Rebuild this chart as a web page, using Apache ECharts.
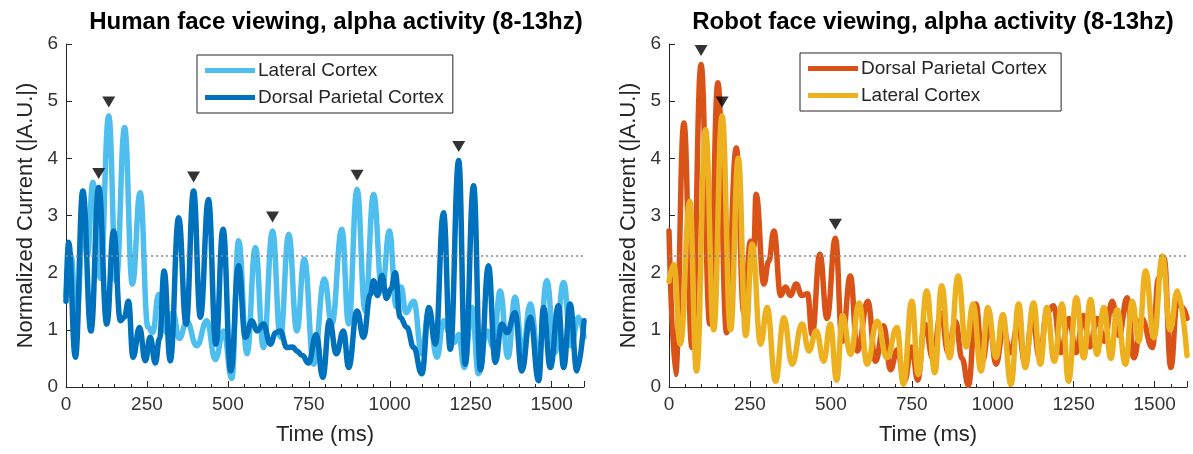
<!DOCTYPE html>
<html>
<head>
<meta charset="utf-8">
<script src="https://cdn.jsdelivr.net/npm/echarts@6/dist/echarts.min.js"></script>
<style>
  html, body { margin: 0; padding: 0; background: #ffffff; }
  #chart { width: 1193px; height: 454px; }
</style>
</head>
<body>
<div id="chart"></div>
<script>
// Alpha-band (8-13 Hz) source currents, [time ms, normalized current]
const humanLateral = [
  [0,1.6],[15,2.3],[32,1.2],[55,3.0],[66,2.3],[83,3.58],[106,1.9],[132,4.74],[155,1.85],[181,4.54],
  [205,1.8],[229,3.4],[253,1.05],[268,0.95],[286,1.62],[310,0.95],[330,1.3],[350,0.85],[373,1.15],[404,0.72],
  [435,1.16],[461,0.48],[487,0.98],[512,0.15],[533,2.56],[559,0.58],[585,2.44],[610,0.69],[638,2.73],[662,0.87],
  [688,2.67],[713,0.98],[736,2.24],[765,0.4],[798,1.89],[821,1.1],[852,2.76],[873,1.1],[899,3.46],[924,1.33],
  [950,3.37],[976,1.68],[999,2.73],[1020,1.4],[1035,1.75],[1050,1.3],[1074,1.5],[1099,0.58],[1120,1.33],[1146,0.52],
  [1166,1.16],[1187,0.92],[1200,0.78],[1213,0.92],[1230,0.34],[1254,1.39],[1274,0.23],[1300,0.98],[1320,0.7],[1341,1.68],
  [1365,0.52],[1387,1.57],[1410,0.6],[1434,1.45],[1460,0.5],[1485,1.86],[1510,0.6],[1537,1.83],[1560,0.72],[1583,1.22],
  [1600,0.87]
];
const humanDorsal = [
  [0,1.5],[8,2.53],[29,0.52],[52,3.43],[77,0.98],[101,3.49],[126,1.1],[147,2.73],[168,1.16],[180,1.22],
  [193,1.5],[207,0.52],[227,1.04],[245,0.46],[260,0.87],[276,0.42],[289,0.85],[303,2.03],[322,0.46],[348,2.96],
  [371,1.1],[394,3.43],[415,1.22],[440,3.28],[463,0.75],[485,2.76],[509,0.28],[533,2.12],[554,0.87],[574,1.16],
  [590,0.98],[610,1.1],[631,0.75],[648,0.95],[662,0.98],[682,0.69],[700,0.7],[713,0.63],[730,0.55],[749,0.42],
  [773,0.92],[793,0.17],[814,1.16],[835,0.58],[857,0.98],[873,0.34],[899,1.33],[919,0.87],[940,1.62],[950,1.86],
  [962,1.6],[976,1.95],[990,1.55],[1004,1.72],[1017,2.0],[1032,1.22],[1053,1.04],[1074,0.69],[1099,0.23],[1121,1.39],
  [1141,0.75],[1166,3.05],[1187,0.66],[1213,3.96],[1233,0.4],[1259,3.52],[1280,0.3],[1305,2.12],[1326,0.43],[1346,1.1],
  [1362,0.95],[1387,1.3],[1408,0.28],[1434,1.22],[1460,0.11],[1475,1.39],[1496,0.34],[1521,1.42],[1537,0.34],[1557,1.45],
  [1578,0.28],[1600,1.16]
];
const robotDorsal = [
  [0,2.73],[20,0.22],[46,4.62],[71,0.69],[99,5.64],[126,1.1],[151,5.32],[178,0.95],[208,4.18],[231,1.3],
  [252,2.55],[262,2.45],[269,3.37],[293,1.8],[308,2.2],[324,2.73],[345,1.6],[360,1.75],[375,1.6],[393,1.8],
  [410,1.6],[428,1.63],[442,0.92],[466,2.32],[488,1.2],[514,2.6],[535,0.8],[560,1.94],[582,0.63],[614,1.5],
  [638,0.45],[663,1.07],[684,0.3],[705,0.65],[727,0.1],[750,0.7],[768,0.12],[790,1.1],[815,0.5],[840,1.3],
  [862,0.6],[885,1.15],[905,0.5],[925,0.03],[948,1.45],[968,0.45],[990,1.1],[1010,0.4],[1033,1.0],[1055,0.6],
  [1078,1.1],[1100,0.4],[1122,1.2],[1145,0.5],[1167,1.3],[1188,1.42],[1210,0.6],[1235,1.2],[1258,0.6],[1280,1.25],
  [1300,0.7],[1322,1.2],[1345,0.8],[1369,1.5],[1390,0.9],[1415,1.56],[1436,0.51],[1460,1.2],[1493,0.69],[1512,1.9],
  [1529,2.26],[1550,0.34],[1570,1.5],[1586,1.39],[1600,1.2]
];
const robotLateral = [
  [0,1.85],[15,2.14],[35,0.75],[64,3.25],[85,0.28],[113,4.5],[138,1.0],[164,4.74],[190,1.0],[214,4.0],
  [237,0.9],[257,2.5],[283,0.75],[303,1.39],[329,0.1],[355,1.21],[380,0.4],[411,1.1],[432,0.63],[455,0.98],
  [478,0.45],[498,1.1],[518,0.12],[536,1.25],[561,0.57],[587,1.47],[612,0.4],[643,1.15],[673,0.51],[704,1.04],
  [724,0.05],[750,1.5],[770,0.22],[796,1.68],[821,0.25],[842,1.77],[867,0.51],[893,1.94],[918,0.7],[939,1.45],
  [964,0.28],[985,1.39],[1010,0.51],[1031,1.27],[1056,0.05],[1080,1.45],[1100,0.34],[1126,1.47],[1147,0.4],[1167,1.39],
  [1190,0.45],[1214,1.45],[1234,0.1],[1258,1.56],[1281,0.51],[1302,1.53],[1322,0.57],[1343,1.39],[1365,0.5],[1384,1.35],
  [1410,0.4],[1431,1.5],[1451,0.8],[1472,2.03],[1498,0.86],[1524,2.29],[1548,1.0],[1570,1.68],[1600,0.55]
];

// Peaks flagged with a downward triangle
const humanPeaks = [[101,3.49],[132,4.74],[394,3.43],[638,2.73],[899,3.46],[1213,3.96]];
const robotPeaks = [[99,5.64],[164,4.74],[514,2.6]];

// Significance threshold (dotted line)
const threshold = 2.29;

const panelTitles = ['Human face viewing, alpha activity (8-13hz)', 'Robot face viewing, alpha activity (8-13hz)'];
const seriesNames = {
  humanLateral: 'Lateral Cortex',
  humanDorsal: 'Dorsal Parietal Cortex',
  robotDorsal: 'Dorsal Parietal Cortex ',
  robotLateral: 'Lateral Cortex '
};
const xLabel = 'Time (ms)';
const yLabel = 'Normalized Current (|A.U.|)';

const FONT = '"Liberation Sans", Arial, Helvetica, sans-serif';
const INK = '#262626';
const COLORS = {
  humanLateral: '#4DBEEE',
  humanDorsal: '#0072BD',
  robotDorsal: '#D95319',
  robotLateral: '#EDB120'
};

function xAxisFor(gridIndex) {
  return {
    type: 'value', gridIndex, min: 0, max: 1600, interval: 250,
    name: xLabel, nameLocation: 'middle', nameGap: 37,
    nameTextStyle: { fontFamily: FONT, fontSize: 22, color: INK },
    axisLine: { show: true, lineStyle: { color: INK, width: 1 } },
    axisTick: { show: true, inside: true, length: 6, lineStyle: { color: INK } },
    minorTick: { show: true, splitNumber: 5, length: 3, lineStyle: { color: INK } },
    axisLabel: { fontFamily: FONT, fontSize: 19, color: '#333333', margin: 8, showMaxLabel: false,
                 formatter: v => String(v) },
    splitLine: { show: false }
  };
}
function yAxisFor(gridIndex) {
  return {
    type: 'value', gridIndex, min: 0, max: 6, interval: 1,
    name: yLabel, nameLocation: 'middle', nameGap: 29,
    nameTextStyle: { fontFamily: FONT, fontSize: 22, color: INK },
    axisLine: { show: true, lineStyle: { color: INK, width: 1 } },
    axisTick: { show: true, inside: true, length: 6, lineStyle: { color: INK } },
    axisLabel: { fontFamily: FONT, fontSize: 19, color: '#333333', margin: 8 },
    splitLine: { show: false }
  };
}
function traceSeries(key, data, gridIndex, withThreshold) {
  const s = {
    name: seriesNames[key], type: 'line', xAxisIndex: gridIndex, yAxisIndex: gridIndex,
    data, showSymbol: false, smooth: 0.45, smoothMonotone: 'x',
    lineStyle: { color: COLORS[key], width: 5.5, join: 'round', cap: 'round' },
    itemStyle: { color: COLORS[key] },
    silent: true, animation: false
  };
  if (withThreshold) {
    s.markLine = {
      silent: true, symbol: 'none', label: { show: false },
      lineStyle: { type: [2, 3], color: '#8a8a8a', width: 1.5 },
      data: [{ yAxis: threshold }]
    };
  }
  return s;
}
function peakSeries(data, gridIndex) {
  return {
    type: 'scatter', xAxisIndex: gridIndex, yAxisIndex: gridIndex, data,
    symbol: 'triangle', symbolRotate: 180, symbolSize: [13, 11], symbolOffset: [0, -14],
    itemStyle: { color: '#000000' }, silent: true, animation: false, z: 5
  };
}
function legendFor(names, left, top) {
  return {
    orient: 'vertical', left, top,
    data: names, icon: 'rect', itemWidth: 50, itemHeight: 5, itemGap: 8,
    padding: [6, 9, 6, 8],
    borderColor: INK, borderWidth: 1, backgroundColor: '#ffffff',
    selectedMode: false,
    textStyle: { fontFamily: FONT, fontSize: 19, color: INK, padding: [0, 0, 0, -2] }
  };
}

const chart = echarts.init(document.getElementById('chart'), null, { renderer: 'canvas' });
chart.setOption({
  backgroundColor: '#ffffff',
  animation: false,
  title: [
    { text: panelTitles[0], left: 331, top: 5, textAlign: 'center',
      textStyle: { fontFamily: FONT, fontSize: 24, fontWeight: 'bold', color: '#000000' } },
    { text: panelTitles[1], left: 928, top: 5, textAlign: 'center',
      textStyle: { fontFamily: FONT, fontSize: 24, fontWeight: 'bold', color: '#000000' } }
  ],
  legend: [
    legendFor([seriesNames.humanLateral, seriesNames.humanDorsal], 197, 55),
    legendFor([seriesNames.robotDorsal, seriesNames.robotLateral], 800, 53)
  ],
  grid: [
    { left: 66, top: 44, width: 518, height: 343 },
    { left: 669, top: 44, width: 518, height: 343 }
  ],
  xAxis: [xAxisFor(0), xAxisFor(1)],
  yAxis: [yAxisFor(0), yAxisFor(1)],
  series: [
    traceSeries('humanLateral', humanLateral, 0, true),
    traceSeries('humanDorsal', humanDorsal, 0, false),
    peakSeries(humanPeaks, 0),
    traceSeries('robotDorsal', robotDorsal, 1, true),
    traceSeries('robotLateral', robotLateral, 1, false),
    peakSeries(robotPeaks, 1)
  ]
});
</script>
</body>
</html>
